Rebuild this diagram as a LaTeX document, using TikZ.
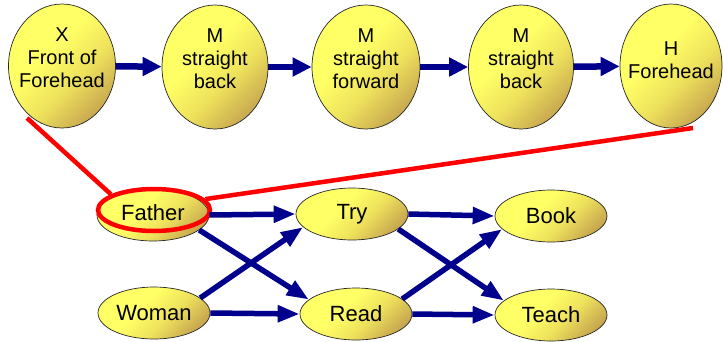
\documentclass[tikz,border=0pt]{standalone}
\usepackage{fontspec}
\setmainfont{Liberation Sans}
\usetikzlibrary{shapes.geometric,arrows.meta}
\definecolor{navy}{RGB}{0,0,140}
\definecolor{yl}{RGB}{255,255,102}
\definecolor{ym}{RGB}{238,226,92}
\definecolor{yd}{RGB}{200,168,80}
\definecolor{red1}{RGB}{255,0,0}
\pgfdeclarehorizontalshading{yshade}{100bp}{color(0bp)=(yl); color(42bp)=(yl); color(58bp)=(ym); color(75bp)=(yd); color(100bp)=(yd)}
\tikzset{
  yfill/.style={draw=black!85,line width=0.7pt,shading=yshade,shading angle=-45},
  bigc/.style={ellipse,yfill,inner sep=0pt,minimum width=106pt,minimum height=124pt},
  smallc/.style={ellipse,yfill,inner sep=0pt,minimum width=112pt,minimum height=52pt,font=\fontsize{22}{25}\selectfont},
  lbl/.style={align=center,inner sep=0pt,font=\fontsize{20}{23}\selectfont},
  tarr/.style={draw=navy,line width=6.5pt,-{Triangle[length=19pt,width=18pt]},shorten >=0pt},
  barr/.style={draw=navy,line width=5.5pt,-{Triangle[length=22pt,width=16pt]}},
  redl/.style={draw=red1,line width=4.5pt}
}
\begin{document}
\begin{tikzpicture}[x=1pt,y=-1pt]
\useasboundingbox (0,0) rectangle (723,341);
% top row
\node[bigc,minimum width=107pt] (x1) at (62,66) {};
\node[lbl] (x1t) at (62,58) {X\\Front of\\Forehead};
\node[bigc] (m1) at (215,67) {};
\node[lbl] (m1t) at (215,59) {M\\straight\\back};
\node[bigc,minimum width=108pt] (m2) at (366,67) {};
\node[lbl] (m2t) at (366,59) {M\\straight\\forward};
\node[bigc,minimum width=105pt] (m3) at (521,67) {};
\node[lbl] (m3t) at (521,59) {M\\straight\\back};
\node[bigc,minimum width=102pt] (hh) at (671,66) {};
\node[lbl] (hht) at (671,60) {H\\Forehead};
\draw[tarr] (x1) -- (m1);
\draw[tarr] (m1) -- (m2);
\draw[tarr] (m2) -- (m3);
\draw[tarr] (m3) -- (hh);
% bottom
\node[smallc] (father) at (153,215) {};
\node[ellipse,redl,inner sep=0pt,minimum width=112pt,minimum height=42pt] (fred) at (154,210) {};
\node[inner sep=0pt,font=\fontsize{22}{25}\selectfont] (fathert) at (153,213) {Father};
\node[smallc] (woman) at (154,313) {Woman};
\node[smallc] (try) at (352,214) {Try};
\node[smallc] (read) at (356,314) {Read};
\node[smallc] (book) at (551,216) {Book};
\node[smallc] (teach) at (551,315) {Teach};
\draw[barr] (father.east) -- (try.west);
\draw[barr] (father.-18) -- (read.163);
\draw[barr] (woman.18) -- (try.-165);
\draw[barr] (woman.east) -- (read.west);
\draw[barr] (try.east) -- (book.west);
\draw[barr] (try.-18) -- (teach.163);
\draw[barr] (read.18) -- (book.-165);
\draw[barr] (read.east) -- (teach.west);
% red lines
\coordinate (r1) at (27,118);
\coordinate (r2) at (693,128);
\draw[redl] (r1) -- (fred.160);
\draw[redl] (fred.12) -- (r2);
\end{tikzpicture}
\end{document}
